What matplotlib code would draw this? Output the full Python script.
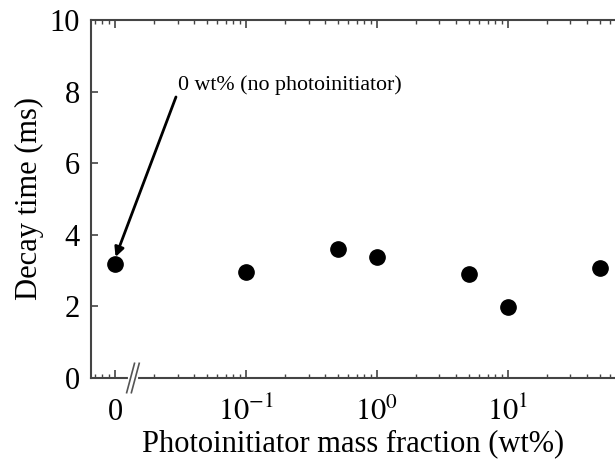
from matplotlib import pyplot as plt
from matplotlib.ticker import FixedLocator, NullFormatter
import numpy as np

plt.rcParams['font.family'] = ['Liberation Serif', 'DejaVu Serif']
plt.rcParams['mathtext.fontset'] = 'stix'

### - Data (the "0 wt%" sample is drawn at 1e-2 on the log axis, labelled "0")
zero_pos = 0.01
fraction = [zero_pos, 0.1, 0.5, 1, 5, 10, 50]
decay = [3.18, 2.97, 3.6, 3.38, 2.9, 1.98, 3.08]

xtick_vals = [zero_pos, 0.1, 1, 10]
xtick_labels = ['0', r'$10^{-1}$', r'$10^{0}$', r'$10^{1}$']
ytick_vals = [0, 2, 4, 6, 8, 10]

fig = plt.figure(figsize=(6.15, 4.63), dpi=100)
ax = fig.add_axes([0.148, 0.1836, 0.852, 0.7732])

ax.plot(fraction, decay, 'o', color='black', markersize=11, zorder=3)

ax.set_xscale('log')
ax.set_xlim(0.00656, 65.6)
ax.set_ylim(0, 10)

# ticks - log minors between the decades, inward on bottom and top
minors = []
for dec in [0.001, 0.01, 0.1, 1, 10]:
    minors += [m * dec for m in range(2, 10)]
ax.xaxis.set_major_locator(FixedLocator(xtick_vals))
ax.xaxis.set_minor_locator(FixedLocator(minors))
ax.xaxis.set_minor_formatter(NullFormatter())
ax.set_xticklabels(xtick_labels)
ax.set_yticks(ytick_vals)

ax.tick_params(axis='both', which='both', direction='in', colors='#444444',
               labelcolor='black', labelsize=22)
ax.tick_params(axis='x', which='major', length=6, width=1.2, top=True, pad=30)
ax.tick_params(axis='x', which='minor', length=3, width=1, top=True)
ax.tick_params(axis='y', which='major', length=5, width=1.2, pad=8)
for lab in ax.get_xticklabels():
    lab.set_va('baseline')

for side in ['left', 'top', 'bottom']:
    ax.spines[side].set_color('#444444')
    ax.spines[side].set_linewidth(1.5)
ax.spines['right'].set_visible(False)

ax.set_xlabel('Photoinitiator mass fraction (wt%)', fontsize=22, labelpad=2)
ax.set_ylabel('Decay time (ms)', fontsize=22, labelpad=4)

# axis break marks "//" on the bottom spine
bx = 0.080
dx, dy = 0.0075, 0.041
ax.plot([bx - 0.006, bx + 0.006], [0, 0], color='white', lw=3,
        transform=ax.transAxes, clip_on=False, zorder=4)
for off in [-0.0045, 0.0045]:
    ax.plot([bx + off - dx, bx + off + dx], [-dy, dy], color='#555555', lw=1.2,
            transform=ax.transAxes, clip_on=False, zorder=5)

# annotation
ax.text(0.030, 8.18, '0 wt% (no photoinitiator)', fontsize=15.8, va='center', ha='left')
ax.annotate('', xy=(zero_pos * 1.01, 3.38), xytext=(0.0292, 7.85),
            arrowprops=dict(arrowstyle='-|>', color='black', lw=2,
                            mutation_scale=14, shrinkA=0, shrinkB=0))

fig.savefig('out.png', dpi=100)
